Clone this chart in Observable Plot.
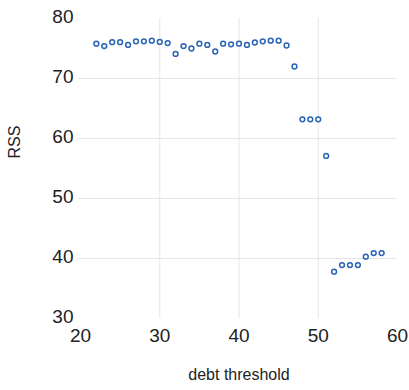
<!DOCTYPE html>
<html><head><meta charset="utf-8">
<script src="https://cdn.jsdelivr.net/npm/d3@7"></script>
<script src="https://cdn.jsdelivr.net/npm/@observablehq/plot@0.6"></script>
<style>body{margin:0;background:#fff}</style>
</head><body><div id="chart"></div>
<script>
const thresholds = [22,23,24,25,26,27,28,29,30,31,32,33,34,35,36,37,38,39,40,41,42,43,44,45,46,47,48,49,50,51,52,53,54,55,56,57,58];
const rss = [75.8,75.4,76.05,76.05,75.6,76.2,76.2,76.3,76.1,75.9,74.1,75.4,75.0,75.8,75.6,74.5,75.8,75.7,75.8,75.6,76.0,76.2,76.3,76.3,75.5,72.0,63.2,63.2,63.2,57.1,37.8,38.9,38.9,38.9,40.3,40.9,40.9];
const xTicks = [20,30,40,50,60];
const yTicks = [30,40,50,60,70,80];
const xGrid = [30,40,50];
const yGrid = [40,50,60,70];
const data = thresholds.map((t,i)=>({t, rss: rss[i]}));
const font = "'Liberation Sans', Arial, Helvetica, sans-serif";
const chart = Plot.plot({
  width: 409, height: 390,
  marginLeft: 80, marginRight: 12, marginTop: 18, marginBottom: 72,
  style: {fontFamily: font, background: "#fff", color: "#222"},
  x: {domain: [20,60]},
  y: {domain: [30,80]},
  marks: [
    Plot.ruleX(xGrid, {stroke: "#e6e6e6", strokeWidth: 1}),
    Plot.ruleY(yGrid, {x1: 19.7, x2: 60, stroke: "#e6e6e6", strokeWidth: 1}),
    Plot.axisX(xTicks, {tickSize: 0, tickPadding: 10, fontSize: 19, label: null, fill: "#222"}),
    Plot.axisY(yTicks, {tickSize: 0, tickPadding: 7, fontSize: 19, label: null, dy: -2, fill: "#222"}),
    Plot.dot(data, {x: "t", y: "rss", r: 2.4, stroke: "#2a64b4", strokeWidth: 1.5, fill: "white"}),
    Plot.text(["debt threshold"], {frameAnchor: "bottom", dy: 61, fontSize: 16, fill: "#222"}),
    Plot.text(["RSS"], {frameAnchor: "left", dx: -65.5, dy: -10, rotate: -90, fontSize: 16, fill: "#222"})
  ]
});
document.getElementById("chart").append(chart);
</script>
</body></html>
